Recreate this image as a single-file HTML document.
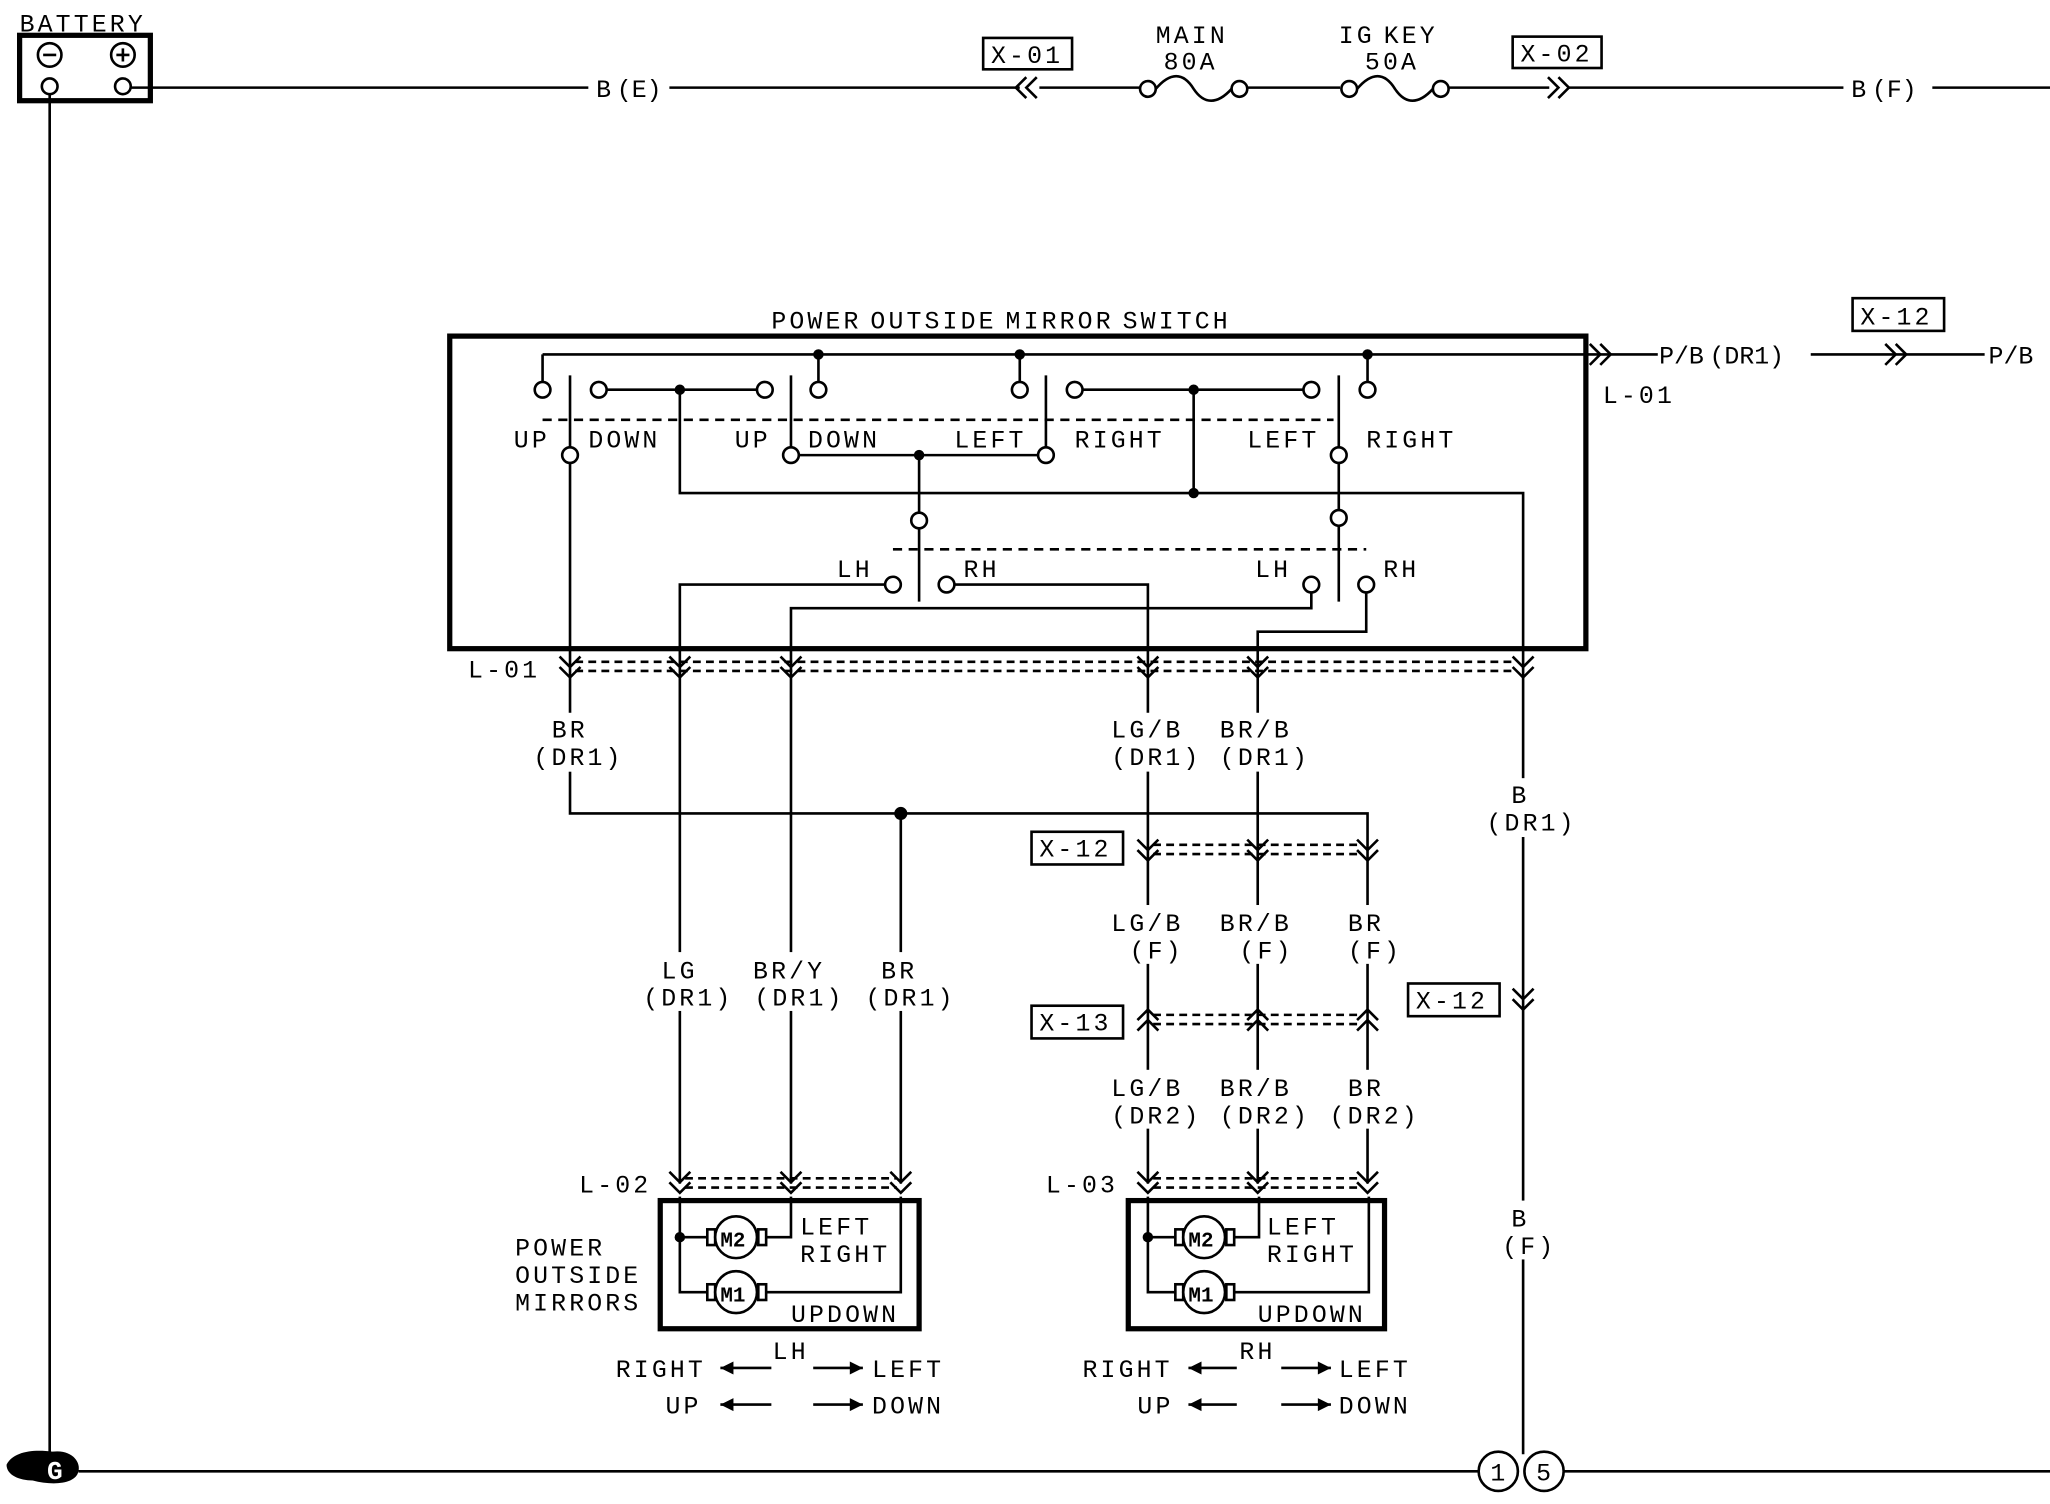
<!DOCTYPE html>
<html><head><meta charset="utf-8"><style>
html,body{margin:0;padding:0;background:#fff}
svg{display:block}
text{font-family:"Liberation Mono","DejaVu Sans Mono",monospace;font-size:19px;fill:#000;letter-spacing:2.4px;word-spacing:-7px}
</style></head><body>
<svg width="2050" height="1504" viewBox="0 0 1568 1150" preserveAspectRatio="none" xmlns="http://www.w3.org/2000/svg">
<defs>
<g id="chd"><path d="M-8,-10 L0,-2 L8,-10 M-8,-2 L0,6 L8,-2" fill="none" stroke="#000" stroke-width="2"/></g>
<g id="chu"><path d="M-8,2 L0,-6 L8,2 M-8,10 L0,2 L8,10" fill="none" stroke="#000" stroke-width="2"/></g>
<g id="chr"><path d="M-6,-8 L2,0 L-6,8 M2,-8 L10,0 L2,8" fill="none" stroke="#000" stroke-width="2"/></g>
<g id="chl"><path d="M6,-8 L-2,0 L6,8 M-2,-8 L-10,0 L-2,8" fill="none" stroke="#000" stroke-width="2"/></g>
</defs>
<g fill="none" stroke="#000" stroke-width="2">
<rect x="15" y="27" width="100" height="50" stroke-width="4"/>
<circle cx="38" cy="42" r="9"/><circle cx="94" cy="42" r="9"/>
<path d="M33,42h10M89,42h10M94,37v10"/>
<circle cx="38" cy="66" r="6"/><circle cx="94" cy="66" r="6"/>
<path d="M100,67H450M512,67H780M795,67H872M954,67H1025M1108,67H1185M1200,67H1410M1478,67H1568"/>
<path d="M38,72V1112"/>
<circle cx="878" cy="68" r="6"/><circle cx="948" cy="68" r="6"/>
<path d="M884,68 C895,55 905,55 913,68 C921,80 931,80 942,68"/>
<circle cx="1032" cy="68" r="6"/><circle cx="1102" cy="68" r="6"/>
<path d="M1038,68 C1049,55 1059,55 1067,68 C1075,80 1085,80 1096,68"/>
<rect x="752" y="29" width="68" height="24"/><rect x="1157" y="28" width="68" height="24"/>
<path d="M60,1125H1131M1196,1125H1568"/>
<circle cx="1146" cy="1125" r="15"/><circle cx="1181" cy="1125" r="15"/>
<rect x="344" y="257" width="869" height="239" stroke-width="4"/>
<path d="M415,271H1215M415,271V292M626,271V292M780,271V292M1046,271V292"/>
<circle cx="415" cy="298" r="6"/><circle cx="626" cy="298" r="6"/><circle cx="780" cy="298" r="6"/><circle cx="1046" cy="298" r="6"/>
<circle cx="458" cy="298" r="6"/><circle cx="585" cy="298" r="6"/><path d="M464,298H579"/>
<circle cx="822" cy="298" r="6"/><circle cx="1003" cy="298" r="6"/><path d="M828,298H997"/>
<path d="M520,298V377H1165V1112M913,298V377"/>
<path d="M436,287V342M605,287V342M800,287V342M1024,287V342"/>
<path d="M415,321H1020" stroke-dasharray="7,5"/>
<circle cx="436" cy="348" r="6"/><circle cx="605" cy="348" r="6"/><circle cx="800" cy="348" r="6"/><circle cx="1024" cy="348" r="6"/>
<path d="M611,348H794M703,348V392M1024,354V390"/>
<circle cx="703" cy="398" r="6"/><circle cx="1024" cy="396" r="6"/>
<path d="M703,404V460M1024,402V460"/>
<path d="M683,420H1045" stroke-dasharray="7,5"/>
<circle cx="683" cy="447" r="6"/><circle cx="724" cy="447" r="6"/><circle cx="1003" cy="447" r="6"/><circle cx="1045" cy="447" r="6"/>
<path d="M677,447H520V905M730,447H878V905M1003,453V465H605V905M1045,453V483H962V905"/>
<path d="M436,354V622H1046V905M689,622V905"/>
<path d="M440,506H1160M440,513H1160M882,646H1042M882,653H1042M882,776H1042M882,783H1042M524,901H686M524,908H686M882,901H1042M882,908H1042" stroke-dasharray="6,4"/>
<rect x="505" y="918" width="198" height="98" stroke-width="4"/>
<rect x="863" y="918" width="196" height="98" stroke-width="4"/>
<g id="mot">
<path d="M520,915V988H541M520,946H541M586,946H605V915M586,988H689V915"/>
<rect x="541" y="940" width="6" height="12"/><rect x="580" y="940" width="6" height="12"/>
<circle cx="563" cy="946" r="16"/>
<rect x="541" y="982" width="6" height="12"/><rect x="580" y="982" width="6" height="12"/>
<circle cx="563" cy="988" r="16"/>
</g>
<use href="#mot" transform="translate(358,0)"/>
<rect x="1417" y="228" width="70" height="25"/>
<rect x="789" y="636" width="70" height="25"/>
<rect x="789" y="769" width="70" height="25"/>
<rect x="1077" y="752" width="70" height="25"/>
<path d="M551,1046H590M622,1046H660M551,1074H590M622,1074H660M909,1046H946M980,1046H1018M909,1074H946M980,1074H1018"/>
</g>
<g fill="#000">
<circle cx="626" cy="271" r="4"/><circle cx="780" cy="271" r="4"/><circle cx="1046" cy="271" r="4"/>
<circle cx="520" cy="298" r="4"/><circle cx="913" cy="298" r="4"/><circle cx="913" cy="377" r="4"/><circle cx="703" cy="348" r="4"/>
<circle cx="689" cy="622" r="5"/><circle cx="520" cy="946" r="4"/><circle cx="878" cy="946" r="4"/>
<path d="M551,1046l10,-5v10zM660,1046l-10,-5v10zM551,1074l10,-5v10zM660,1074l-10,-5v10zM909,1046l10,-5v10zM1018,1046l-10,-5v10zM909,1074l10,-5v10zM1018,1074l-10,-5v10z"/>
<path d="M5,1120 C10,1110 25,1108 40,1110 C55,1108 62,1118 60,1125 C58,1135 40,1136 25,1132 C15,1132 5,1128 5,1120z"/>
</g>
<text x="36" y="1131" style="fill:#fff;font-size:20px;font-weight:bold">G</text>
<use href="#chl" x="787" y="67"/><use href="#chr" x="1190" y="67"/>
<use href="#chr" x="1222" y="271"/><use href="#chr" x="1448" y="271"/>
<path d="M1213,271H1268M1385,271H1518" stroke="#000" stroke-width="2" fill="none"/>
<use href="#chd" x="436" y="512"/><use href="#chd" x="520" y="512"/><use href="#chd" x="605" y="512"/><use href="#chd" x="878" y="512"/><use href="#chd" x="962" y="512"/><use href="#chd" x="1165" y="512"/>
<use href="#chd" x="878" y="652"/><use href="#chd" x="962" y="652"/><use href="#chd" x="1046" y="652"/>
<use href="#chu" x="878" y="778"/><use href="#chu" x="962" y="778"/><use href="#chu" x="1046" y="778"/>
<use href="#chd" x="1165" y="766"/>
<use href="#chd" x="520" y="906"/><use href="#chd" x="605" y="906"/><use href="#chd" x="689" y="906"/>
<use href="#chd" x="878" y="906"/><use href="#chd" x="962" y="906"/><use href="#chd" x="1046" y="906"/>
<g fill="#fff"><rect x="420" y="545" width="30" height="45"/><rect x="405" y="562" width="66" height="28"/>
<rect x="845" y="545" width="66" height="45"/><rect x="930" y="545" width="66" height="45"/><rect x="1135" y="595" width="60" height="45"/>
<rect x="845" y="692" width="66" height="45"/><rect x="930" y="692" width="66" height="45"/><rect x="1025" y="692" width="44" height="45"/>
<rect x="490" y="728" width="66" height="45"/><rect x="574" y="728" width="66" height="45"/><rect x="660" y="728" width="62" height="45"/>
<rect x="845" y="818" width="66" height="45"/><rect x="930" y="818" width="66" height="45"/><rect x="1015" y="818" width="64" height="45"/>
<rect x="1145" y="918" width="40" height="45"/></g>
<text x="15" y="24">BATTERY</text>
<text x="456" y="74" style="letter-spacing:0">B (E)</text><text x="1416" y="74" style="letter-spacing:0">B (F)</text>
<text x="758" y="48">X-01</text><text x="1163" y="47">X-02</text>
<text x="884" y="33">MAIN</text><text x="890" y="53">80A</text>
<text x="1024" y="33">IG KEY</text><text x="1044" y="53">50A</text>
<text x="590" y="251">POWER OUTSIDE MIRROR SWITCH</text>
<text x="1269" y="278" style="letter-spacing:0">P/B (DR1)</text><text x="1521" y="278" style="letter-spacing:0">P/B</text>
<text x="1423" y="248">X-12</text><text x="1226" y="308">L-01</text>
<text x="393" y="342">UP</text><text x="450" y="342">DOWN</text><text x="562" y="342">UP</text><text x="618" y="342">DOWN</text>
<text x="730" y="342">LEFT</text><text x="822" y="342">RIGHT</text><text x="954" y="342">LEFT</text><text x="1045" y="342">RIGHT</text>
<text x="640" y="441">LH</text><text x="737" y="441">RH</text><text x="960" y="441">LH</text><text x="1058" y="441">RH</text>
<text x="358" y="518">L-01</text>
<text x="422" y="564">BR</text><text x="408" y="585">(DR1)</text>
<text x="850" y="564">LG/B</text><text x="850" y="585">(DR1)</text>
<text x="933" y="564">BR/B</text><text x="933" y="585">(DR1)</text>
<text x="1156" y="614">B</text><text x="1137" y="635">(DR1)</text>
<text x="795" y="655">X-12</text><text x="795" y="788">X-13</text><text x="1083" y="771">X-12</text>
<text x="850" y="712">LG/B</text><text x="864" y="733">(F)</text>
<text x="933" y="712">BR/B</text><text x="948" y="733">(F)</text>
<text x="1031" y="712">BR</text><text x="1031" y="733">(F)</text>
<text x="506" y="748">LG</text><text x="492" y="769">(DR1)</text>
<text x="576" y="748">BR/Y</text><text x="577" y="769">(DR1)</text>
<text x="674" y="748">BR</text><text x="662" y="769">(DR1)</text>
<text x="850" y="838">LG/B</text><text x="850" y="859">(DR2)</text>
<text x="933" y="838">BR/B</text><text x="933" y="859">(DR2)</text>
<text x="1031" y="838">BR</text><text x="1017" y="859">(DR2)</text>
<text x="443" y="912">L-02</text><text x="800" y="912">L-03</text>
<text x="1156" y="938">B</text><text x="1149" y="959">(F)</text>
<text x="394" y="960">POWER</text><text x="394" y="981">OUTSIDE</text><text x="394" y="1002">MIRRORS</text>
<text x="612" y="944">LEFT</text><text x="612" y="965">RIGHT</text><text x="605" y="1011">UPDOWN</text>
<text x="969" y="944">LEFT</text><text x="969" y="965">RIGHT</text><text x="962" y="1011">UPDOWN</text>
<text x="551" y="953" style="font-size:16px;font-weight:bold;letter-spacing:0">M2</text><text x="551" y="995" style="font-size:16px;font-weight:bold;letter-spacing:0">M1</text>
<text x="909" y="953" style="font-size:16px;font-weight:bold;letter-spacing:0">M2</text><text x="909" y="995" style="font-size:16px;font-weight:bold;letter-spacing:0">M1</text>
<text x="591" y="1039">LH</text><text x="948" y="1039">RH</text>
<text x="471" y="1053">RIGHT</text><text x="667" y="1053">LEFT</text><text x="509" y="1081">UP</text><text x="667" y="1081">DOWN</text>
<text x="828" y="1053">RIGHT</text><text x="1024" y="1053">LEFT</text><text x="870" y="1081">UP</text><text x="1024" y="1081">DOWN</text>
<text x="1140" y="1132" style="letter-spacing:0">1</text><text x="1175" y="1132" style="letter-spacing:0">5</text>
</svg>
</body></html>
